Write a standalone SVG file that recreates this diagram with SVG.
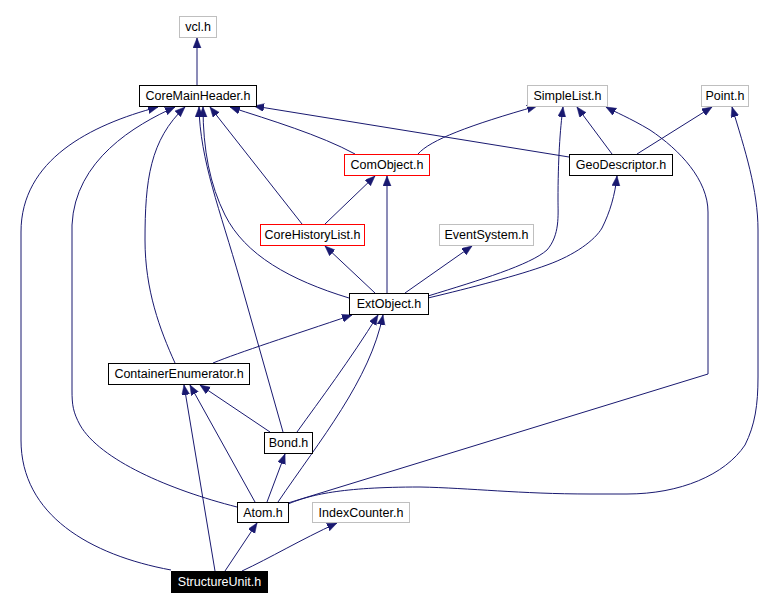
<svg xmlns="http://www.w3.org/2000/svg" width="777" height="609" viewBox="0 0 777 609">
<style>
text{font-family:"Liberation Sans",Arial,sans-serif;font-size:12.5px;text-anchor:middle;fill:#000}
.n rect{fill:#fff;stroke:#000;stroke-width:1}
.g rect{stroke:#bfbfbf}
.r rect{stroke:#ff0000}
.b rect{fill:#000}
.b text{fill:#fff}
#edges path{fill:none;stroke:#191970;stroke-width:1;marker-end:url(#ah)}
</style>
<defs>
<marker id="ah" markerUnits="userSpaceOnUse" markerWidth="12" markerHeight="9" refX="10" refY="4" orient="auto">
<path d="M0,0 L10,4 L0,8 z" fill="#191970" stroke="#191970" stroke-width="0.5"/>
</marker>
</defs>
<rect width="777" height="609" fill="#fff"/>
<g id="edges">
<path d="M197,85 L197,38"/>
<path d="M171,570 C90,555 21,515 21,440 L21,232 C21,160 90,125 158,107"/>
<path d="M237,507 C170,490 100,460 80,425 C73,412 72,405 72,390 L72,225 C75,160 135,125 175,107"/>
<path d="M175,363 C160,330 145,290 145,240 C145,180 150,140 185,107"/>
<path d="M283,432 L240,280 C220,210 200,160 199,107"/>
<path d="M349,298 C290,280 245,255 225,215 C210,185 203,150 203,107"/>
<path d="M302,224 L210,107"/>
<path d="M355,154 C320,135 270,120 230,107"/>
<path d="M569,157 L254,106"/>
<path d="M418,154 C430,140 470,125 537,106"/>
<path d="M428,296 C480,280 530,265 547,250 C560,235 558,215 558,200 C558,160 560,130 563,107"/>
<path d="M612,154 L577,107"/>
<path d="M288,503 L708,374 L708,212 C708,180 680,150 650,130 C630,118 615,112 606,107"/>
<path d="M637,154 L712,107"/>
<path d="M288,504 C310,495 340,487 420,487 C470,488 520,494 590,494 L627,494 C680,494 725,475 745,445 C755,425 758,405 758,377 L758,230 C758,190 745,150 732,107"/>
<path d="M325,224 L375,176"/>
<path d="M387,293 L387,176"/>
<path d="M428,298 C470,288 520,275 547,265 C575,255 595,240 602,228 C610,212 615,195 617,176"/>
<path d="M375,293 L325,246"/>
<path d="M405,293 L472,246"/>
<path d="M213,363 C240,352 290,336 352,315"/>
<path d="M297,432 C320,400 350,360 378,315"/>
<path d="M278,502 C320,440 370,380 383,315"/>
<path d="M270,432 L200,385"/>
<path d="M255,502 L190,385"/>
<path d="M215,571 L184,385"/>
<path d="M267,502 L285,454"/>
<path d="M225,571 L257,523"/>
<path d="M242,571 C270,558 300,540 337,523"/>
</g>
<g id="vcl" class="n g"><rect x="179.5" y="16.5" width="37" height="21"/><text x="198" y="31">vcl.h</text></g>
<g id="CoreMainHeader" class="n"><rect x="139.5" y="85.5" width="117" height="21"/><text x="198" y="100">CoreMainHeader.h</text></g>
<g id="SimpleList" class="n g"><rect x="527.5" y="85.5" width="80" height="21"/><text x="567.5" y="100">SimpleList.h</text></g>
<g id="Point" class="n g"><rect x="701.5" y="85.5" width="47" height="21"/><text x="725" y="100">Point.h</text></g>
<g id="GeoDescriptor" class="n"><rect x="569.5" y="154.5" width="103" height="21"/><text x="621" y="169">GeoDescriptor.h</text></g>
<g id="ComObject" class="n r"><rect x="344.5" y="154.5" width="85" height="21"/><text x="387" y="169">ComObject.h</text></g>
<g id="CoreHistoryList" class="n r"><rect x="260.5" y="224.5" width="104" height="21"/><text x="312.5" y="239">CoreHistoryList.h</text></g>
<g id="EventSystem" class="n g"><rect x="439.5" y="224.5" width="94" height="21"/><text x="486.5" y="239">EventSystem.h</text></g>
<g id="ExtObject" class="n"><rect x="349.5" y="293.5" width="79" height="21"/><text x="389" y="308">ExtObject.h</text></g>
<g id="ContainerEnumerator" class="n"><rect x="108.5" y="363.5" width="141" height="21"/><text x="179" y="378">ContainerEnumerator.h</text></g>
<g id="Bond" class="n"><rect x="264.5" y="432.5" width="48" height="21"/><text x="288.5" y="447">Bond.h</text></g>
<g id="Atom" class="n"><rect x="237.5" y="502.5" width="51" height="20"/><text x="263" y="517">Atom.h</text></g>
<g id="IndexCounter" class="n g"><rect x="312.5" y="502.5" width="97" height="20"/><text x="361" y="517">IndexCounter.h</text></g>
<g id="StructureUnit" class="n b"><rect x="171.5" y="571.5" width="96" height="21"/><text x="219.5" y="586">StructureUnit.h</text></g>
</svg>
